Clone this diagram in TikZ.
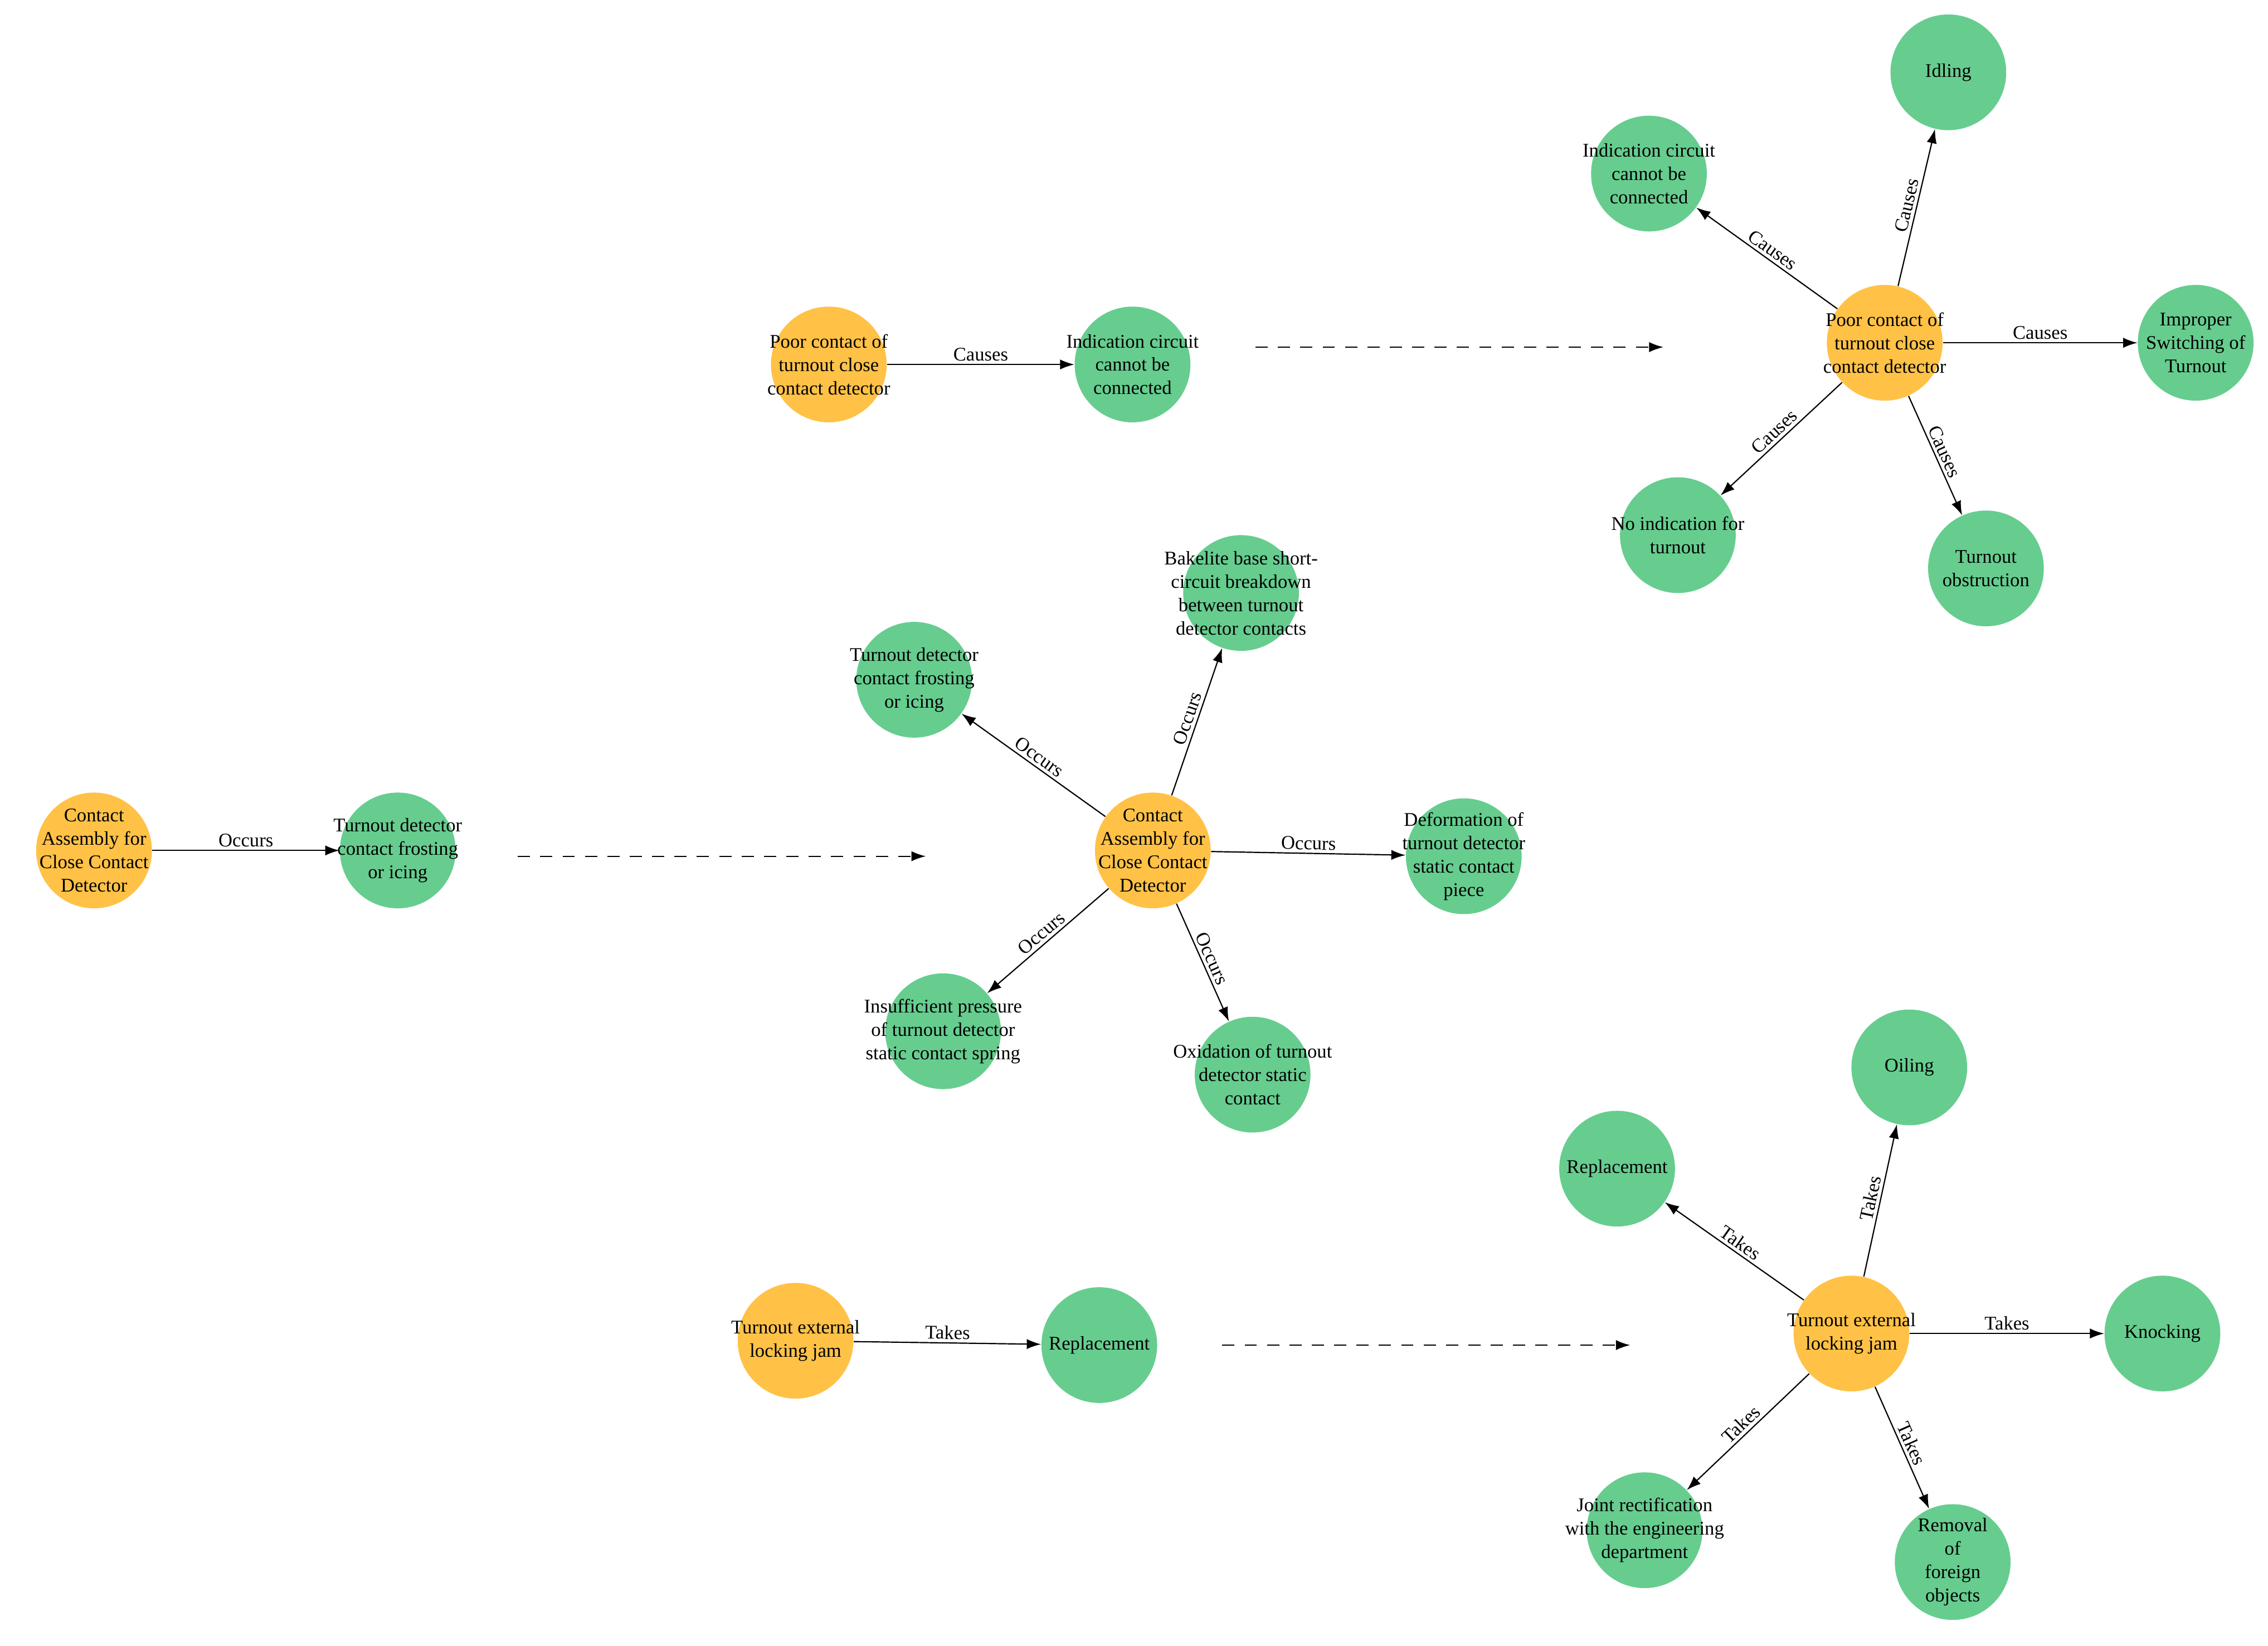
\documentclass[tikz,border=0pt]{standalone}
\usepackage{fontspec}
\setmainfont{Liberation Serif}
\usetikzlibrary{arrows.meta}
\definecolor{org}{HTML}{FFC247}
\definecolor{grn}{HTML}{66CD8F}
\begin{document}
\begin{tikzpicture}[x=0.025cm,y=-0.025cm,
 base/.style={circle,minimum size=2cm,inner sep=0pt},
 o/.style={base,fill=org,label={[tx]center:#1}}, g/.style={base,fill=grn,label={[tx]center:#1}},
 tx/.style={align=center,font=\fontsize{9.5}{11.5}\selectfont,inner sep=0pt},
 e/.style={-{Latex[length=7pt,width=5pt]},line width=0.6pt},
 lb/.style={sloped,above,font=\fontsize{9.5}{11.5}\selectfont,inner sep=1.5pt},
 d/.style={-{Latex[length=7pt,width=5pt]},line width=0.6pt,dash pattern=on 6pt off 5pt}]
\useasboundingbox (0,0) rectangle (1568,1138);
% top
\node[o={Poor contact of\\turnout close\\contact detector}] (a1) at (573,252) {};
\node[g={Indication circuit\\cannot be\\connected}] (a2) at (783,252) {};
\draw[e] (a1) -- node[lb]{Causes} (a2);
\coordinate (da1) at (868,240); \coordinate (da2) at (1150,240);
\draw[d] (da1) -- (da2);
\node[o={Poor contact of\\turnout close\\contact detector}] (A) at (1303,237) {};
\node[g={Idling}] (A1) at (1347,50) {};
\node[g={Indication circuit\\cannot be\\connected}] (A2) at (1140,120) {};
\node[g={Improper\\Switching of\\Turnout}] (A3) at (1518,237) {};
\node[g={No indication for\\turnout}] (A4) at (1160,370) {};
\node[g={Turnout\\obstruction}] (A5) at (1373,393) {};
\foreach \t in {A1,A2,A3,A4,A5} \draw[e] (A) -- node[lb]{Causes} (\t);
% middle
\node[o={Contact\\Assembly for\\Close Contact\\Detector}] (b1) at (65,588) {};
\node[g={Turnout detector\\contact frosting\\or icing}] (b2) at (275,588) {};
\draw[e] (b1) -- node[lb]{Occurs} (b2);
\coordinate (db1) at (358,592); \coordinate (db2) at (640,592);
\draw[d] (db1) -- (db2);
\node[o={Contact\\Assembly for\\Close Contact\\Detector}] (B) at (797,588) {};
\node[g={Bakelite base short-\\circuit breakdown\\between turnout\\detector contacts}] (B1) at (858,410) {};
\node[g={Turnout detector\\contact frosting\\or icing}] (B2) at (632,470) {};
\node[g={Deformation of\\turnout detector\\static contact\\piece}] (B3) at (1012,592) {};
\node[g={Insufficient pressure\\of turnout detector\\static contact spring}] (B4) at (652,713) {};
\node[g={Oxidation of turnout\\detector static\\contact}] (B5) at (866,743) {};
\foreach \t in {B1,B2,B3,B4,B5} \draw[e] (B) -- node[lb]{Occurs} (\t);
% bottom
\node[o={Turnout external\\locking jam}] (c1) at (550,927) {};
\node[g={Replacement}] (c2) at (760,930) {};
\draw[e] (c1) -- node[lb]{Takes} (c2);
\coordinate (dc1) at (845,930); \coordinate (dc2) at (1127,930);
\draw[d] (dc1) -- (dc2);
\node[o={Turnout external\\locking jam}] (C) at (1280,922) {};
\node[g={Oiling}] (C1) at (1320,738) {};
\node[g={Replacement}] (C2) at (1118,808) {};
\node[g={Knocking}] (C3) at (1495,922) {};
\node[g={Joint rectification\\with the engineering\\department}] (C4) at (1137,1058) {};
\node[g={Removal\\of\\foreign\\objects}] (C5) at (1350,1080) {};
\foreach \t in {C1,C2,C3,C4,C5} \draw[e] (C) -- node[lb]{Takes} (\t);
\end{tikzpicture}
\end{document}
